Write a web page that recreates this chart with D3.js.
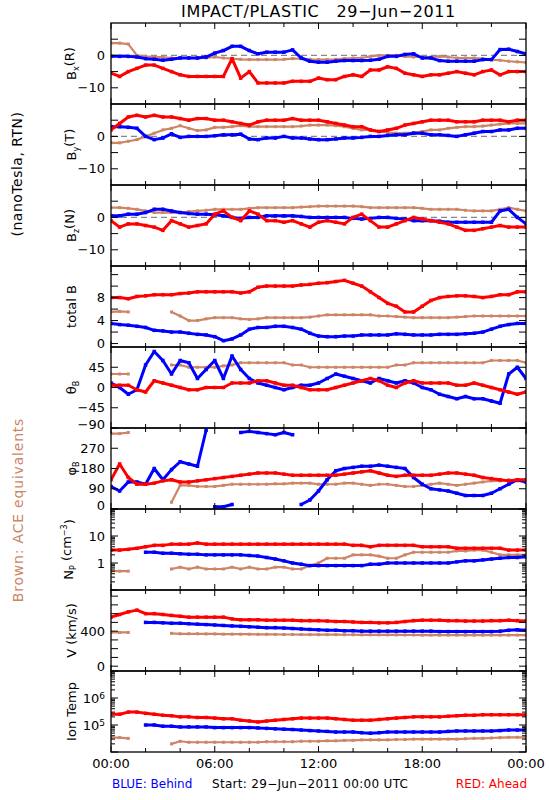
<!DOCTYPE html>
<html><head><meta charset="utf-8">
<script src="https://cdn.jsdelivr.net/npm/d3@7"></script>
<style>body{margin:0;background:#fff}svg{display:block}text{font-family:"DejaVu Sans",sans-serif;fill:#000}</style>
</head><body><svg id="c" width="550" height="800"></svg>
<script>
// ---------------- DATA (30-min grid) ----------------
const hours = [0,0.5,1,1.5,2,2.5,3,3.5,4,4.5,5,5.5,6,6.5,7,7.5,8,8.5,9,9.5,10,10.5,11,11.5,12,12.5,13,13.5,14,14.5,15,15.5,16,16.5,17,17.5,18,18.5,19,19.5,20,20.5,21,21.5,22,22.5,23,23.5,24];
const timeTicks = ["00:00","06:00","12:00","18:00","00:00"];

const bxBehind = [-0.3,-0.3,-0.3,-0.5,-1,-1.2,-1.5,-1.2,-0.8,-0.8,-0.8,-0.5,0.7,1.5,2.8,2.8,1.5,0.5,1,1,1,1.7,-0.8,-1.8,-2.1,-2.1,-1.8,-1.6,-1.6,-1.6,-1.5,-1.2,-0.3,-0.3,0.3,0.5,-0.8,-0.8,-1.6,-1.8,-1.8,-1.8,-1.8,-1.3,-1.3,1.8,1.9,1.2,0.5];
const bxACE    = [3.8,3.8,3.5,0,-0.3,-0.5,-0.5,-0.8,-0.8,-0.8,-0.8,-0.8,-0.5,-0.8,-1,-1.2,-1.3,-1.3,-1.3,-1.3,-1.2,-1,-1,-1.2,-1.3,-1.3,-1.2,-1,-0.8,-0.8,-0.3,0,0,0,-0.3,-0.5,-0.5,-0.5,-0.3,-0.5,-0.8,-0.8,-0.8,-1,-1.3,-1.5,-1.8,-2,-2.2];
const bxAhead  = [-5.5,-6.5,-5,-4,-3,-3,-4,-5,-6,-6.5,-6.5,-6.5,-6.5,-6.5,-1,-7,-5,-8.5,-8.5,-8.5,-8.5,-8,-8,-8,-7,-7.5,-7.5,-6.5,-6,-6.5,-4.5,-4.5,-3.5,-4,-5.5,-6,-6.5,-6,-6,-5.5,-5,-5.5,-6,-5,-4.5,-6,-5,-5,-5];

const byAhead  = [2,4,6,6.5,6,6.5,6,6,5.5,5,5.5,5.5,5,5,4.5,4,3.5,4.5,5,5,5,5.5,5,5,5,4.5,4,3.5,3,3,2,1.5,2,2.5,3.5,4,4.5,5,5,5,4.5,4.5,4.5,5,5,5,4.5,5,5];
const byBehind = [3,3,2.8,2.5,0,-1,-0.5,0.8,-0.3,0,0,0,0.2,0.5,0.5,0.7,-0.8,-1,-0.5,-0.5,0,-0.5,-0.5,-0.8,-1,-1,-0.8,-0.5,-0.5,-0.3,0,0,0.3,0.5,0.5,1,1,0.5,0.5,0.3,0,0.5,1,1.5,1.5,2,2,2.5,2.5];
const byACE    = [-2,-2,-1.5,-1,0,1,2,2.5,3.3,2.5,1.8,2,2.8,2.8,3,3.3,3,3,3,3,3,3,3.2,3.5,3.5,3.5,3.3,3,2.5,2,2,1.5,1.2,1,1,1.2,1.5,2,2,2.5,2.8,3,3,3.2,3.5,3.8,4,4,4];

const bzAhead  = [-1,-3,-2,-2,-2.5,-3,-4,-1,-2,-3,-2.5,-2,1,2,0,-1,2,1,-1,-1,-1.5,-1,-2,-3,-1.5,-1,-1.5,-2,0,1,-1,-3,-3,-2,-1,0,-0.5,-1,-1.5,-2,-3,-4,-4,-3.5,-3,-2.5,-3,-3,-3];
const bzBehind = [0.5,0.5,1,1,1.5,2.5,2.5,2,1.5,1.2,1,1,0.8,0.5,0,-0.3,0,0,0.5,0.5,0.5,0.5,0.3,0,0,0,0,0,-0.3,-0.5,-0.3,0,0,-0.3,-0.5,-1,-1,-1,-1.2,-1.5,-1.5,-1.5,-1.5,-1.5,-1.5,2,2.5,0,-2];
const bzACE    = [3,3,2.8,2.5,2,1.5,1.5,1.5,1.5,1.8,2,2.2,2.5,2.5,2.5,2.5,2.8,3,3,3,3,3,3.2,3.3,3.5,3.5,3.5,3.5,3.5,3.3,3,3,3,3,3,3,2.8,2.5,2.5,2.5,2.5,2.2,2,2,2,2.5,3,2.5,2];

const btAhead  = [8,8,7.8,8.2,8.3,8.5,8.5,8.5,8.7,8.8,9,9,9,9,9,8.8,9,9.8,10,10,10,10,10.2,10.3,10.5,10.6,10.8,11,10.5,10,9,8,7,6.5,5.5,5.5,6.5,7.5,8,8.2,8.3,8.3,8.2,8,8.2,8.5,8.5,9,9];
const btBehind = [3.5,3.3,3.2,3,2.8,2.3,2.2,2,2,1.8,1.6,1.5,1.2,0.5,0.8,1.5,2.5,2.8,2.8,3,3,2.8,2.5,1.8,1.3,1.2,1.2,1.3,1.3,1.5,1.5,1.5,1.5,1.7,1.6,1.5,1.5,1.5,1.6,1.6,1.6,1.7,1.8,2,2.5,3,3.3,3.5,3.5];
const btACE    = [5.5,5.6,5.5,null,null,null,null,5.5,4.8,4,4,4.3,4.5,4.5,4.5,4.3,4.2,4.3,4.5,4.5,4.5,4.5,4.5,4.6,4.8,5,5,5,5,5,5,4.8,4.8,4.7,4.6,4.5,4.5,4.5,4.5,4.5,4.6,4.7,4.8,4.8,4.8,4.8,4.8,4.8,4.8];

const thAhead  = [5,5,5,-5,-10,15,10,5,0,-5,-5,0,0,0,10,10,10,15,15,10,5,5,0,-5,-5,-5,0,5,10,15,20,15,5,0,10,15,10,10,10,10,5,5,10,5,0,-5,-10,-15,-10];
const thBehind = [10,0,-15,-5,50,80,60,30,60,55,20,40,60,20,70,40,20,10,5,0,-5,0,5,5,10,20,30,25,20,15,10,20,15,10,15,10,0,-5,-15,-20,-25,-20,-25,-25,-30,-35,30,45,20];
const thACE    = [30,30,30,null,null,null,null,50,50,45,45,45,45,48,50,55,55,55,55,55,55,50,50,45,45,45,45,45,45,45,45,45,45,50,50,55,55,55,55,55,55,55,55,55,60,60,60,60,55];

const phAhead  = [130,200,140,110,110,115,125,130,120,120,125,130,135,140,145,150,155,160,160,160,155,150,150,150,150,150,150,155,160,165,170,160,150,145,150,150,150,150,155,160,160,155,150,140,135,130,125,130,130];
const phBehind = [100,80,120,120,110,180,130,175,210,200,190,350,10,10,20,340,345,340,335,330,340,330,20,40,80,130,170,180,185,190,190,195,190,185,180,140,110,90,85,80,70,60,60,60,70,90,110,130,120];
const phACE    = [335,335,340,null,null,null,null,30,105,105,100,100,100,105,110,110,110,110,110,112,112,115,115,115,110,110,110,115,115,110,105,110,110,105,100,100,105,110,115,110,105,110,115,120,125,125,130,125,120];

const npAhead  = [3,3,3.2,3.5,4,4.5,4.5,5,5,5,5.5,5,5,5,5,5,5,5,5,5,5,5,5,5,5,5,5,5,4.5,4.5,4,4.5,4.5,4.5,4.5,4.5,4,4,4,4,3.5,3.5,3.5,3.5,3.5,3.5,3,3,3];
const npBehind = [null,null,null,null,2.5,2.5,2.3,2.3,2.2,2.1,2.1,2,2,2,2,2,1.9,1.8,1.6,1.4,1.2,1,0.9,0.8,0.8,0.8,0.8,0.8,0.8,0.8,0.9,0.9,1,1,1,1,1,1,1,1,1.1,1.2,1.2,1.3,1.4,1.5,1.6,1.6,1.7];
const npACE    = [0.5,0.5,0.5,null,null,null,null,0.6,0.7,0.6,0.7,0.6,0.6,0.6,0.7,0.6,0.7,0.6,0.6,0.7,0.7,0.6,0.6,0.8,1,1.5,1.5,1.5,2,2,2,1.8,1.5,1.5,2,2.5,2.5,2.5,2.5,2.5,2.8,2.8,3,3,2.5,2,2,2,2];

const vAhead   = [560,590,620,640,600,600,590,580,570,560,560,560,560,560,540,530,530,530,525,525,525,525,520,520,520,515,510,510,505,500,500,495,495,500,510,520,525,525,525,520,520,515,515,515,520,520,525,520,515];
const vBehind  = [null,null,null,null,500,500,495,490,490,485,480,475,470,465,460,455,450,445,440,440,435,430,425,420,415,410,410,405,405,400,400,400,400,400,400,400,400,400,395,395,395,395,395,395,395,400,410,415,410];
const vACE     = [385,385,385,null,null,null,null,375,370,370,370,368,368,366,366,365,365,364,364,363,362,362,361,360,360,360,360,359,359,358,358,358,357,357,356,356,355,355,355,355,355,355,355,355,355,355,355,355,355];

const tAhead   = [2.5e5,2.5e5,3e5,3e5,2.7e5,2.5e5,2.3e5,2.2e5,2e5,2e5,1.9e5,1.9e5,1.8e5,1.7e5,1.7e5,1.5e5,1.4e5,1.3e5,1.4e5,1.5e5,1.6e5,1.7e5,1.8e5,1.8e5,1.8e5,1.8e5,1.7e5,1.6e5,1.5e5,1.5e5,1.5e5,1.6e5,1.7e5,1.8e5,1.9e5,2e5,2e5,2e5,2e5,2.1e5,2.2e5,2.3e5,2.3e5,2.4e5,2.4e5,2.4e5,2.4e5,2.4e5,2.4e5];
const tBehind  = [null,null,null,null,1e5,1e5,9e4,9e4,8.5e4,8.5e4,8.5e4,8.5e4,8e4,8e4,8e4,8e4,8e4,7.8e4,7.5e4,7.2e4,7e4,6.8e4,6.5e4,6.2e4,6e4,5.8e4,5.5e4,5.5e4,5.5e4,5.2e4,5e4,5.2e4,5.5e4,5.5e4,5.5e4,5.5e4,5.5e4,5.5e4,5.5e4,5.8e4,6e4,6e4,6e4,6e4,6e4,6.2e4,6.5e4,6.5e4,6.5e4];
const tACE     = [3.4e4,3.4e4,3.2e4,null,null,null,null,2e4,2.5e4,2.3e4,2.3e4,2.3e4,2.3e4,2.3e4,2.3e4,2.3e4,2.3e4,2.3e4,2.4e4,2.4e4,2.4e4,2.4e4,2.5e4,2.5e4,2.5e4,2.6e4,2.6e4,2.7e4,2.7e4,2.8e4,2.8e4,2.8e4,2.8e4,2.9e4,2.9e4,3e4,3e4,3e4,3e4,3e4,3e4,3.1e4,3.2e4,3.2e4,3.3e4,3.4e4,3.5e4,3.5e4,3.5e4];

// ---------------- LAYOUT ----------------
const L = 111, R = 526, TOP = 23, PH = 81;
const COL = {red:"#ff0000", blue:"#0000ff", brown:"#cd8566"};
const svg = d3.select("#c");
const x = d3.scaleLinear().domain([0,24]).range([L,R]);

const panels = [
  {lab:[["B",""],["x","sub"],["(R)",""]], ace:bxACE, beh:bxBehind, ahd:bxAhead, dom:[-15,10], ticks:[-10,-5,0,5], labs:{"0":"0","-10":"\u221210"}, zero:true},
  {lab:[["B",""],["y","sub"],["(T)",""]], ace:byACE, beh:byBehind, ahd:byAhead, dom:[-15,10], ticks:[-10,-5,0,5], labs:{"0":"0","-10":"\u221210"}, zero:true},
  {lab:[["B",""],["z","sub"],["(N)",""]], ace:bzACE, beh:bzBehind, ahd:bzAhead, dom:[-15,10], ticks:[-10,-5,0,5], labs:{"0":"0","-10":"\u221210"}, zero:true},
  {lab:[["total B",""]], ace:btACE, beh:btBehind, ahd:btAhead, dom:[-0.6,13.5], ticks:[0,2,4,6,8,10,12], labs:{"0":"0","4":"4","8":"8"}},
  {lab:[["\u03b8",""],["B","sub"]], ace:thACE, beh:thBehind, ahd:thAhead, dom:[-90,90], ticks:[-90,-45,0,45], labs:{"45":"45","0":"0","-45":"\u221245","-90":"\u221290"}},
  {lab:[["\u03c6",""],["B","sub"]], ace:phACE, beh:phBehind, ahd:phAhead, dom:[0,360], ticks:[0,90,180,270], labs:{"0":"0","90":"90","180":"180","270":"270"}, wrap:true},
  {lab:[["N",""],["P","sub"],[" (cm",""],["\u22123","sup"],[")",""]], ace:npACE, beh:npBehind, ahd:npAhead, dom:[0.1,100], log:true, labs:{"1":["1"],"10":["10"]}},
  {lab:[["V (km/s)",""]], ace:vACE, beh:vBehind, ahd:vAhead, dom:[-55,870], ticks:[0,100,200,300,400,500,600,700,800], labs:{"0":"0","400":"400"}},
  {lab:[["Ion Temp",""]], ace:tACE, beh:tBehind, ahd:tAhead, dom:[1e4,1e7], log:true, labs:{"100000":["10","5"],"1000000":["10","6"]}}
];

panels.forEach((p,i)=>{
  const y0 = TOP + PH*i, y1 = y0 + PH;
  const y = (p.log ? d3.scaleLog() : d3.scaleLinear()).domain(p.dom).range([y1,y0]);
  const g = svg.append("g");
  const clipId = "clip"+i;
  svg.append("clipPath").attr("id",clipId).append("rect").attr("x",L).attr("y",y0).attr("width",R-L).attr("height",PH);
  const pg = g.append("g").attr("clip-path",`url(#${clipId})`);
  if (p.zero) pg.append("line").attr("x1",L).attr("x2",R).attr("y1",y(0)).attr("y2",y(0))
      .attr("stroke","#888").attr("stroke-width",1.3).attr("stroke-dasharray","6,4");
  const line = d3.line().defined(d=>d[1]!=null).x(d=>x(d[0])).y(d=>y(d[1]));
  [["ace","brown",2.2,3],["beh","blue",3,3.5],["ahd","red",3,3.5]].forEach(([k,c,w,sz])=>{
    const pts = hours.map((h,j)=>[h,p[k][j]]);
    // break the trace where an angle wraps around 0/360
    const segPts = [];
    pts.forEach((d,j)=>{
      if (p.wrap && j>0 && d[1]!=null && pts[j-1][1]!=null && Math.abs(d[1]-pts[j-1][1])>180) segPts.push([d[0],null]);
      segPts.push(d);
    });
    pg.append("path").attr("d",line(segPts)).attr("fill","none").attr("stroke",COL[c]).attr("stroke-width",w).attr("stroke-linejoin","round");
    pg.selectAll(null).data(pts.filter(d=>d[1]!=null)).enter().append("rect")
      .attr("x",d=>x(d[0])-sz/2).attr("y",d=>y(d[1])-sz/2).attr("width",sz).attr("height",sz).attr("fill",COL[c]);
  });
  // frame
  g.append("rect").attr("x",L).attr("y",y0).attr("width",R-L).attr("height",PH).attr("fill","none").attr("stroke","#000").attr("stroke-width",1.3);
  // x ticks
  [0,2,4,6,8,10,12,14,16,18,20,22,24].forEach(h=>{
    const len = h%6===0 ? 6 : 4;
    g.append("line").attr("x1",x(h)).attr("x2",x(h)).attr("y1",y1).attr("y2",y1-len).attr("stroke","#000");
    g.append("line").attr("x1",x(h)).attr("x2",x(h)).attr("y1",y0).attr("y2",y0+len).attr("stroke","#000");
  });
  // y ticks
  let tks, majors;
  if (p.log) {
    tks = y.ticks(); majors = tks.filter(t=>Math.abs(Math.log10(t)-Math.round(Math.log10(t)))<1e-9);
  } else { tks = p.ticks; majors = p.ticks; }
  tks.forEach(t=>{
    const isMaj = majors.includes(t);
    const len = isMaj ? 7 : 4;
    const yy = y(t);
    g.append("line").attr("x1",L).attr("x2",L+len).attr("y1",yy).attr("y2",yy).attr("stroke","#000");
    g.append("line").attr("x1",R).attr("x2",R-len).attr("y1",yy).attr("y2",yy).attr("stroke","#000");
  });
  Object.keys(p.labs).forEach(k=>{
    const v = +k, lab = p.labs[k];
    let yy = y(v);
    if (yy > y1 - 4) yy = y1 - 4;
    const t = g.append("text").attr("x",L-6).attr("y",yy).attr("dy","0.36em").attr("text-anchor","end").attr("font-size",13);
    if (Array.isArray(lab)) {
      t.append("tspan").text(lab[0]);
      if (lab[1]) t.append("tspan").attr("dy","-0.45em").attr("font-size",9).text(lab[1]);
    } else t.text(lab);
  });
  // y label
  const tl = g.append("text").attr("transform",`translate(${i===6?73:76},${y0+PH/2}) rotate(-90)`).attr("text-anchor","middle").attr("font-size",13);
  p.lab.forEach(([s,k],j)=>{
    const ts = tl.append("tspan").text(s);
    const prev = j>0 ? p.lab[j-1][1] : "";
    if (k==="sub") ts.attr("dy","0.35em").attr("font-size",8);
    else if (k==="sup") ts.attr("dy","-0.55em").attr("font-size",8);
    else if (prev==="sub") ts.attr("dy","-0.35em");
    else if (prev==="sup") ts.attr("dy","0.55em");
  });
});

// x tick labels
timeTicks.forEach((s,j)=>{
  svg.append("text").attr("x",x(j*6)).attr("y",768).attr("text-anchor","middle").attr("font-size",13).text(s);
});
// title
svg.append("text").attr("x",(L+R)/2).attr("y",17).attr("text-anchor","middle").attr("font-size",16).attr("letter-spacing",0.6)
  .style("white-space","pre").text("IMPACT/PLASTIC   29\u2212Jun\u22122011");
// side labels
svg.append("text").attr("transform","translate(22,174) rotate(-90)").attr("text-anchor","middle").attr("font-size",14).attr("letter-spacing",0.5).text("(nanoTesla, RTN)");
svg.append("text").attr("transform","translate(23,510) rotate(-90)").attr("text-anchor","middle").attr("font-size",14).attr("letter-spacing",0.8).style("fill",COL.brown).text("Brown: ACE equivalents");
// footer
svg.append("text").attr("x",112).attr("y",788).attr("font-size",12).style("fill",COL.blue).text("BLUE: Behind");
svg.append("text").attr("x",212).attr("y",788).attr("font-size",12).attr("letter-spacing",0.3).text("Start: 29\u2212Jun\u22122011 00:00 UTC");
svg.append("text").attr("x",527).attr("y",788).attr("text-anchor","end").attr("font-size",12).style("fill",COL.red).text("RED: Ahead");
</script></body></html>
